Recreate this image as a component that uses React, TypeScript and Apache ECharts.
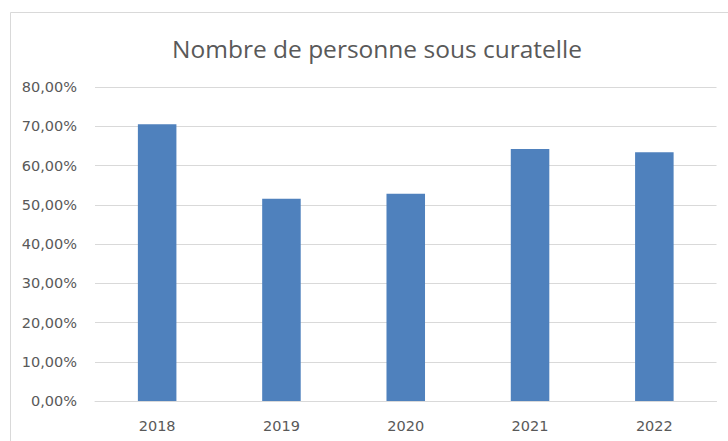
import React, { useEffect, useRef } from "react";
import * as echarts from "echarts";

const categories = ["2018", "2019", "2020", "2021", "2022"];
const values = [70.5, 51.5, 52.8, 64.2, 63.4];
const yTicks = [0, 10, 20, 30, 40, 50, 60, 70, 80];
const title = "Nombre de personne sous curatelle";

export default function App() {
  const ref = useRef<HTMLDivElement>(null);
  useEffect(() => {
    if (!ref.current) return;
    const chart = echarts.init(ref.current, null, { renderer: "svg" });
    const titleFont = "'Open Sans', sans-serif";
    const labelFont = "'DejaVu Sans', sans-serif";
    chart.setOption({
      animation: false,
      backgroundColor: "#ffffff",
      title: {
        text: title,
        left: 372,
        textAlign: "center",
        top: 31,
        textStyle: { fontFamily: titleFont, fontSize: 24.5, fontWeight: "normal", color: "#595959" },
      },
      graphic: [
        {
          type: "rect",
          shape: { x: 10.5, y: 12.5, width: 730, height: 440 },
          style: { fill: "none", stroke: "#d9d9d9", lineWidth: 1 },
          silent: true,
        },
      ],
      grid: { left: 95, right: 11.5, top: 87, bottom: 40 },
      xAxis: {
        type: "category",
        data: categories,
        axisLine: { show: true, lineStyle: { color: "#d9d9d9", width: 1 } },
        axisTick: { show: false },
        axisLabel: { color: "#595959", fontFamily: labelFont, fontSize: 14.5, margin: 17 },
      },
      yAxis: {
        type: "value",
        min: yTicks[0],
        max: yTicks[yTicks.length - 1],
        interval: 10,
        axisLine: { show: false },
        axisTick: { show: false },
        splitLine: { lineStyle: { color: "#d9d9d9", width: 1 } },
        axisLabel: {
          color: "#595959",
          fontFamily: labelFont,
          fontSize: 14.5,
          margin: 18,
          formatter: (v: number) => v.toFixed(2).replace(".", ",") + "%",
        },
      },
      series: [
        {
          type: "bar",
          data: values,
          barWidth: "31%",
          itemStyle: { color: "#4f81bd" },
        },
      ],
    });
    return () => chart.dispose();
  }, []);
  return (
    <div
      ref={ref}
      style={{ position: "fixed", left: 0, top: 0, width: 728, height: 441 }}
    />
  );
}
